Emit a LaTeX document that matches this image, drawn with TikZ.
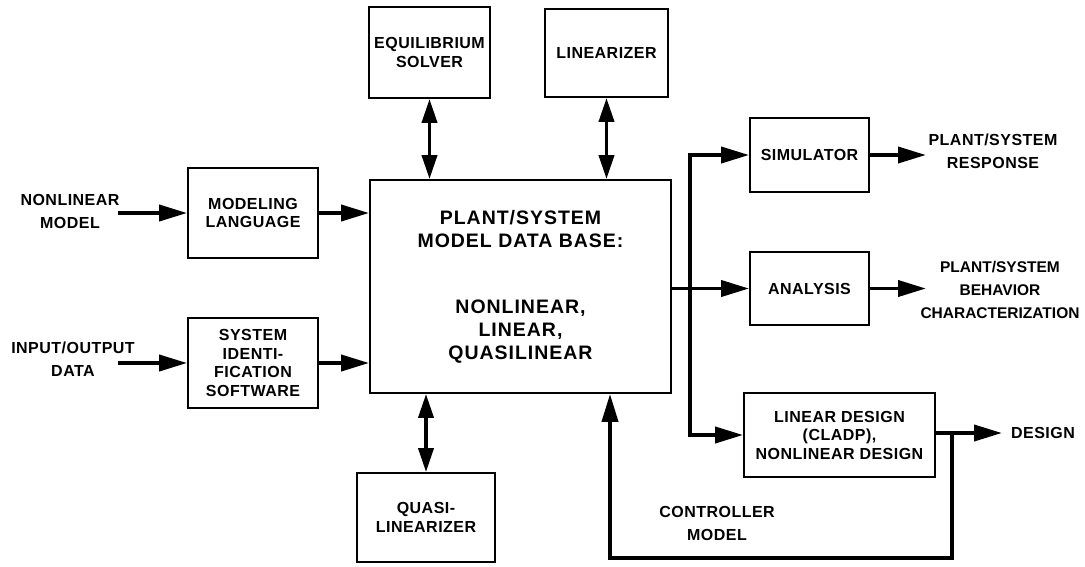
\documentclass[tikz,border=0pt]{standalone}
\usepackage{fontspec}
\setmainfont{Liberation Sans}
\usetikzlibrary{arrows.meta}
\tikzset{
  box/.style={draw, line width=1.8pt, align=center, inner sep=0pt,
    font=\fontsize{16}{18.5}\selectfont\bfseries\addfontfeature{LetterSpace=3}},
  lbl/.style={align=center, inner sep=0pt,
    font=\fontsize{16}{23}\selectfont\bfseries\addfontfeature{LetterSpace=3}},
  arr/.style={line width=3.8pt, -{Triangle[length=28pt,width=16pt]}},
  darr/.style={line width=3.8pt, {Triangle[length=24pt,width=15pt]}-{Triangle[length=24pt,width=15pt]}},
  fb/.style={line width=3.8pt, line join=miter},
}
\begin{document}
\begin{tikzpicture}[x=1pt,y=-1pt]
\useasboundingbox (0,0) rectangle (1085,566);
% boxes
\node[box, minimum width=121pt, minimum height=91pt] (eq) at (429.5,52.5) {EQUILIBRIUM\\SOLVER};
\node[box, minimum width=123pt, minimum height=88pt] (lin) at (606.5,53) {LINEARIZER};
\node[box, minimum width=301pt, minimum height=213pt,
  font=\fontsize{19.5}{23}\selectfont\bfseries\addfontfeature{LetterSpace=5}] (main) at (520.5,286.5)
  {PLANT/SYSTEM\\MODEL DATA BASE:\\[43pt]NONLINEAR,\\LINEAR,\\QUASILINEAR};
\node[box, minimum width=130pt, minimum height=90pt] (ml) at (253,213) {MODELING\\LANGUAGE};
\node[box, minimum width=130pt, minimum height=90pt] (si) at (253,363) {SYSTEM\\IDENTI-\\FICATION\\SOFTWARE};
\node[box, minimum width=119pt, minimum height=74pt] (sim) at (809.5,155) {SIMULATOR};
\node[box, minimum width=119pt, minimum height=73pt] (ana) at (809.5,288.5) {ANALYSIS};
\node[box, minimum width=191pt, minimum height=84pt] (ld) at (839.5,435) {LINEAR DESIGN\\(CLADP),\\NONLINEAR DESIGN};
\node[box, minimum width=138pt, minimum height=89pt] (ql) at (426,517.5) {QUASI-\\LINEARIZER};
% labels
\node[lbl] (nlm) at (70,211) {NONLINEAR\\MODEL};
\node[lbl] (iod) at (73,359) {INPUT/OUTPUT\\DATA};
\node[lbl] (psr) at (993,151) {PLANT/SYSTEM\\RESPONSE};
\node[lbl, font=\fontsize{15.5}{23}\selectfont\bfseries] (psb) at (1000,290) {PLANT/SYSTEM\\BEHAVIOR\\CHARACTERIZATION};
\node[lbl] (des) at (1043,433) {DESIGN};
\node[lbl] (cm) at (717,523) {CONTROLLER\\MODEL};
% coordinates
\coordinate (nlmS) at (118,213);
\coordinate (iodS) at (118,363);
\coordinate (bus) at (690,288.5);
\coordinate (psrE) at (926,155);
\coordinate (psbE) at (926,288.5);
\coordinate (desE) at (1002,433);
\coordinate (tap) at (952,433);
\coordinate (fbR) at (952,558);
\coordinate (fbL) at (610,558);
% connectors
\draw[arr] (nlmS) -- (ml.west);
\draw[arr] (iodS) -- (si.west);
\draw[arr] (ml.east) -- (ml.east -| main.west);
\draw[arr] (si.east) -- (si.east -| main.west);
\draw[darr] (eq.south) -- (eq.south |- main.north);
\draw[darr] (lin.south) -- (lin.south |- main.north);
\draw[darr] (ql.north) -- (ql.north |- main.south);
\draw[arr] (ana.west -| main.east) -- (ana.west);
\draw[arr, line join=miter] (bus) |- (sim.west);
\draw[arr, line join=miter] (bus) |- (ld.west);
\draw[arr] (sim.east) -- (psrE);
\draw[arr] (ana.east) -- (psbE);
\draw[arr] (ld.east |- desE) -- (desE);
\draw[fb, -{Triangle[length=28pt,width=16pt]}] (tap) -- (fbR) -- (fbL) -- (fbL |- main.south);
\end{tikzpicture}
\end{document}
